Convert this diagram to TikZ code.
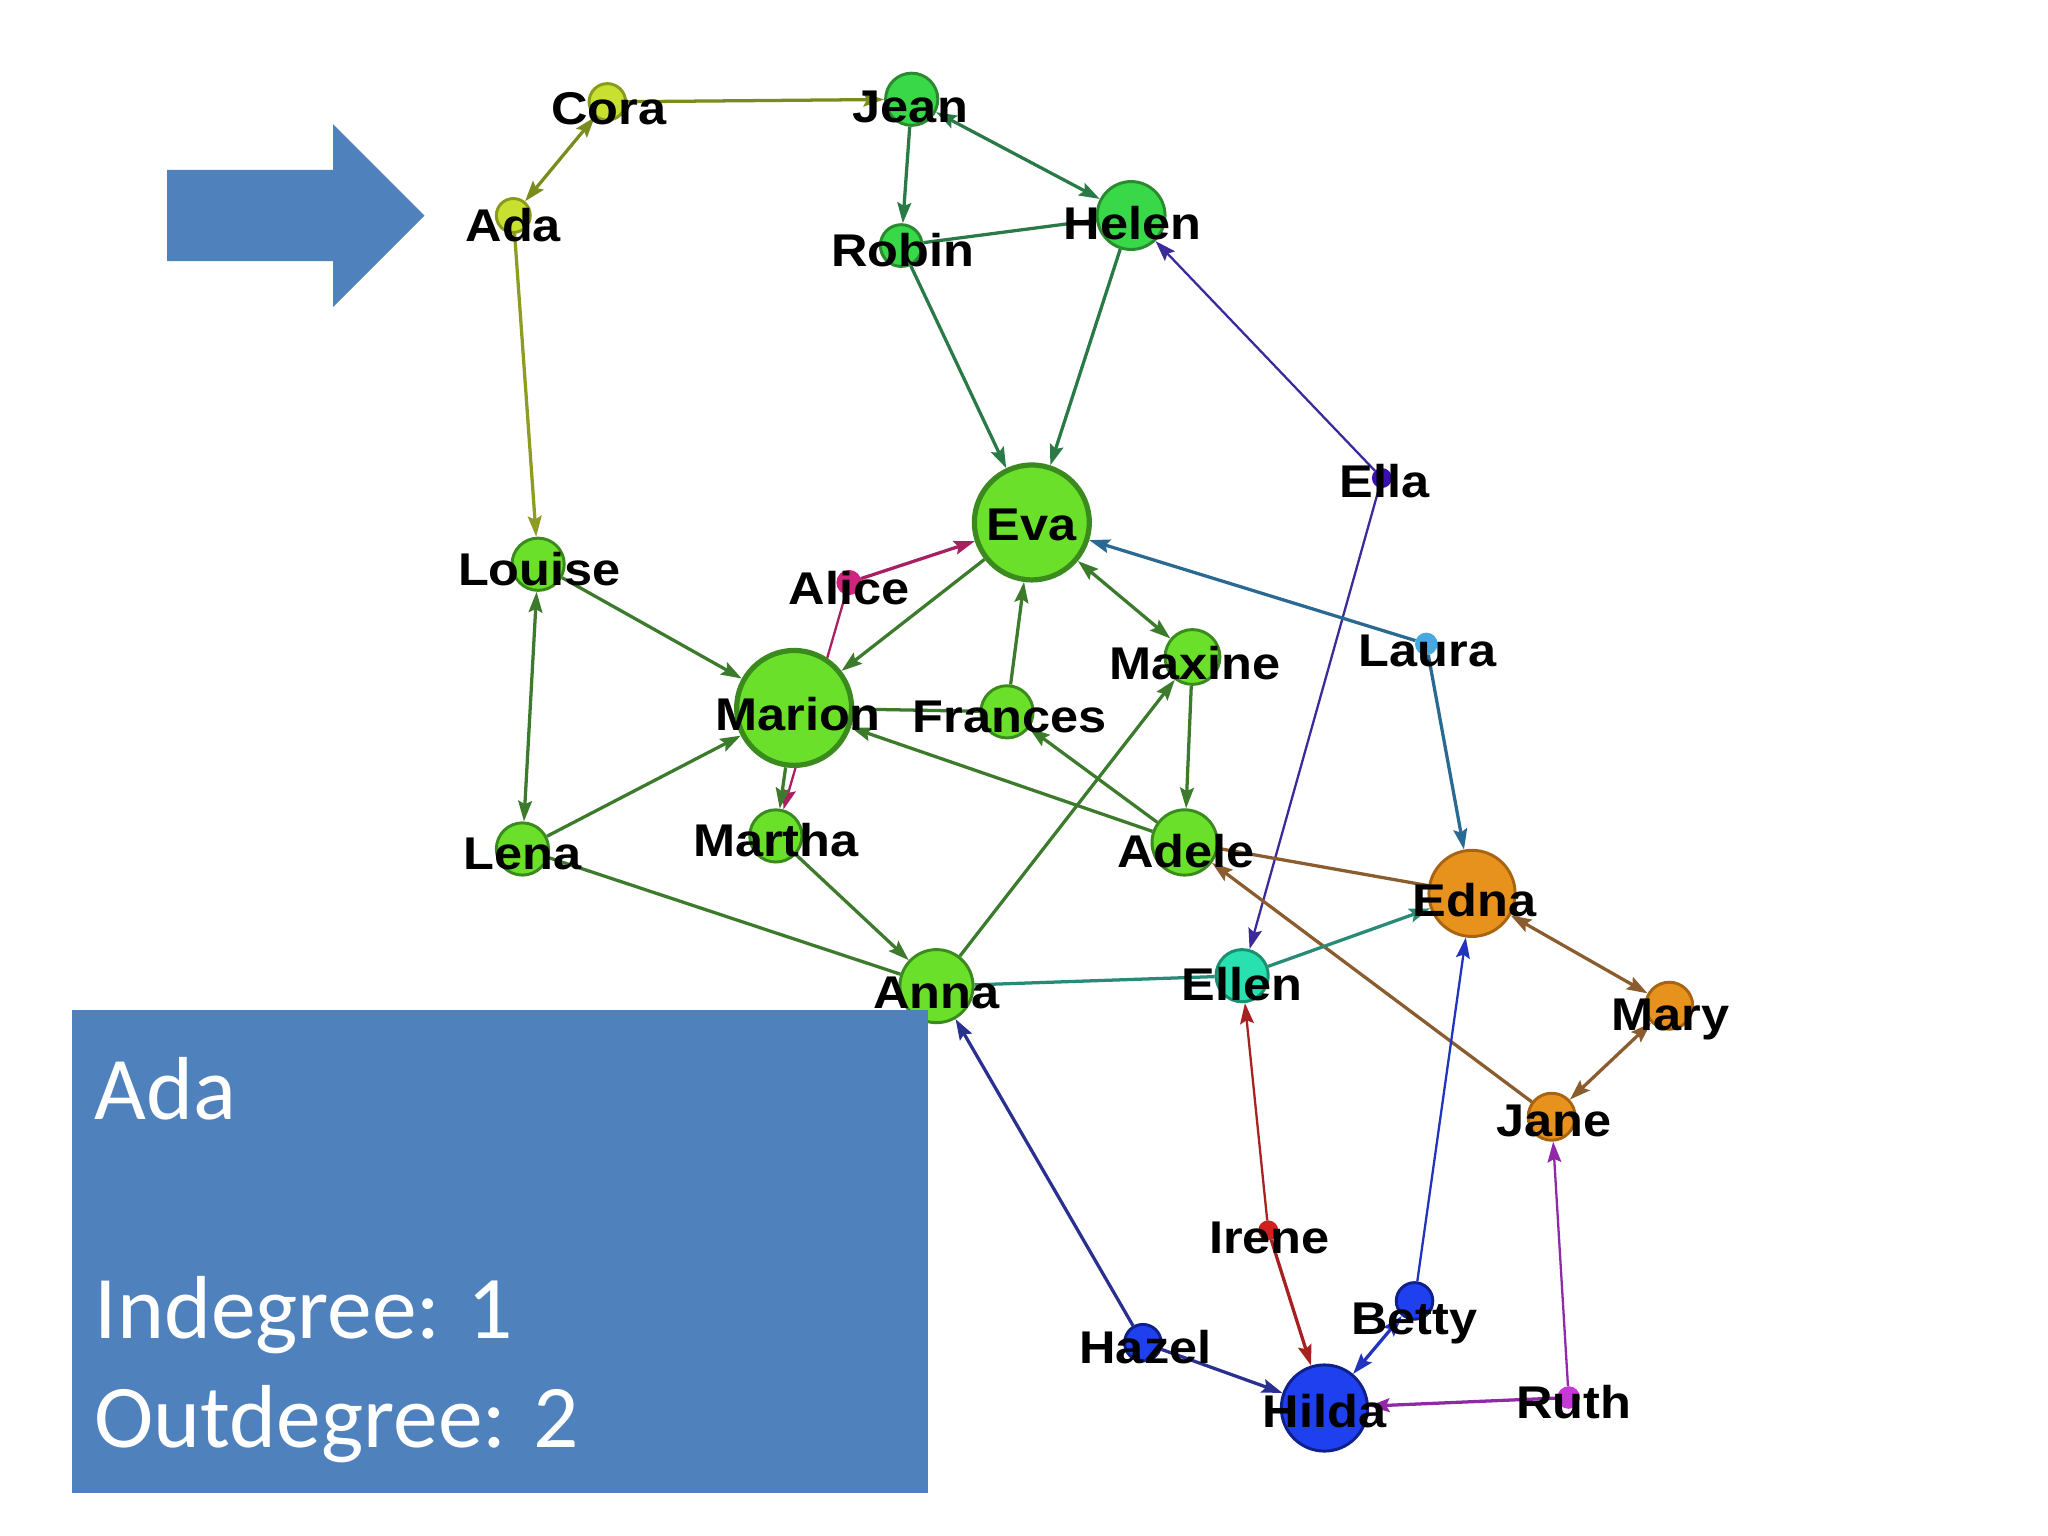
\documentclass[tikz,border=0pt]{standalone}
\usepackage{fontspec}
\setmainfont{Liberation Sans}
\newfontfamily\boxfont{Carlito}
\usetikzlibrary{arrows.meta,backgrounds}
\definecolor{limeF}{HTML}{6BE02A}\definecolor{limeB}{HTML}{3A8A1E}
\definecolor{jgF}{HTML}{38D848}\definecolor{jgB}{HTML}{2A8A30}
\definecolor{yelF}{HTML}{C8E030}\definecolor{yelB}{HTML}{8A9A1A}
\definecolor{orgF}{HTML}{E8921E}\definecolor{orgB}{HTML}{A86410}
\definecolor{tealF}{HTML}{28E0B0}\definecolor{tealB}{HTML}{1A9070}
\definecolor{bluF}{HTML}{1E40EE}\definecolor{bluB}{HTML}{10208A}
\definecolor{ellaF}{HTML}{3A10B0}\definecolor{lauraF}{HTML}{48A8E0}
\definecolor{aliceF}{HTML}{D02480}\definecolor{ireneF}{HTML}{D02020}
\definecolor{ruthF}{HTML}{C838D8}
\definecolor{eOl}{HTML}{7A8C1E}\definecolor{eAd}{HTML}{8E9C22}
\definecolor{eJg}{HTML}{2A7A48}\definecolor{eGr}{HTML}{3C7A2C}
\definecolor{eEl}{HTML}{3A2A9A}\definecolor{eLa}{HTML}{2A6A92}
\definecolor{eAl}{HTML}{A82060}\definecolor{eBr}{HTML}{8A5C2E}
\definecolor{eTe}{HTML}{2A8A78}\definecolor{eHz}{HTML}{2A3090}
\definecolor{eIr}{HTML}{A82020}\definecolor{eBe}{HTML}{2034C0}
\definecolor{eRu}{HTML}{9028A8}
\definecolor{slide}{HTML}{4F81BD}
\newcommand\lbl[1]{\scalebox{1.1}[1]{#1}}
\begin{document}
\begin{tikzpicture}[x=0.02cm,y=-0.02cm,
  >={Stealth[length=9pt,width=6pt,inset=1.5pt]},
  nd/.style={circle,inner sep=0pt,line width=0.045cm},
  big/.style={nd,line width=0.08cm},
  lime/.style={fill=limeF,draw=limeB},
  jg/.style={fill=jgF,draw=jgB},
  yel/.style={fill=yelF,draw=yelB},
  org/.style={fill=orgF,draw=orgB},
  teal/.style={fill=tealF,draw=tealB},
  blu/.style={fill=bluF,draw=bluB},
  lab/.style={anchor=base,inner sep=0pt,font=\bfseries\fontsize{20}{24}\selectfont},
  ed/.style={line width=0.05cm},
  thin/.style={line width=0.035cm},
  bt/.style={anchor=base west,inner sep=0pt,text=white,font=\boxfont\fontsize{39}{47}\selectfont}]
\useasboundingbox (0,0) rectangle (1568,1176);
% nodes (circles)
\node[nd,yel,minimum size=0.56cm] (Cora) at (465,78) {};
\node[nd,jg,minimum size=0.8cm] (Jean) at (698,76) {};
\node[nd,yel,minimum size=0.52cm] (Ada) at (393,165) {};
\node[nd,jg,minimum size=0.64cm] (Robin) at (690,188) {};
\node[nd,jg,minimum size=1.04cm] (Helen) at (866,165) {};
\node[big,lime,minimum size=1.76cm] (Eva) at (790,400) {};
\node[nd,draw=ellaF,fill=ellaF,minimum size=0.26cm] (Ella) at (1058,366) {};
\node[nd,lime,minimum size=0.8cm] (Louise) at (412,432) {};
\node[nd,draw=aliceF,fill=aliceF,minimum size=0.34cm] (Alice) at (650,446) {};
\node[nd,lime,minimum size=0.84cm] (Maxine) at (913,503) {};
\node[nd,draw=lauraF,fill=lauraF,minimum size=0.3cm] (Laura) at (1092,493) {};
\node[big,lime,minimum size=1.76cm] (Marion) at (608,542) {};
\node[nd,lime,minimum size=0.8cm] (Frances) at (771,545) {};
\node[nd,lime,minimum size=0.8cm] (Lena) at (400,650) {};
\node[nd,lime,minimum size=0.8cm] (Martha) at (594,640) {};
\node[nd,lime,minimum size=1.0cm] (Adele) at (907,645) {};
\node[nd,org,minimum size=1.32cm] (Edna) at (1127,684) {};
\node[nd,lime,minimum size=1.12cm] (Anna) at (717,755) {};
\node[nd,teal,minimum size=0.8cm] (Ellen) at (951,747) {};
\node[nd,org,minimum size=0.72cm] (Mary) at (1278,770) {};
\node[nd,org,minimum size=0.72cm] (Jane) at (1188,855) {};
\node[nd,draw=ireneF,fill=ireneF,minimum size=0.26cm] (Irene) at (971,942) {};
\node[nd,blu,minimum size=0.56cm] (Betty) at (1083,996) {};
\node[nd,blu,minimum size=0.56cm] (Hazel) at (875,1028) {};
\node[nd,blu,minimum size=1.32cm] (Hilda) at (1014,1078) {};
\node[nd,draw=ruthF,fill=ruthF,minimum size=0.3cm] (Ruth) at (1201,1070) {};
% edges
\begin{scope}[on background layer]
\fill[white] (0,0) rectangle (1568,1176);
\draw[ed,eOl,<->] (Cora) -- (Ada);
\draw[ed,eOl,->] (Cora) -- (Jean);
\draw[ed,eAd,->] (Ada) -- (Louise);
\draw[ed,eJg,->] (Jean) -- (Robin);
\draw[ed,eJg,<->] (Jean) -- (Helen);
\draw[ed,eJg] (Robin) -- (Helen);
\draw[ed,eJg,->] (Robin) -- (Eva);
\draw[ed,eJg,->] (Helen) -- (Eva);
\draw[thin,eEl,->] (Ella) -- (Helen);
\draw[thin,eEl,->] (Ella) -- (Ellen);
\draw[ed,eGr,->] (Louise) -- (Marion);
\draw[ed,eGr,<->] (Lena) -- (Louise);
\draw[ed,eGr,->] (Lena) -- (Marion);
\draw[ed,eGr] (Lena) -- (Anna);
\draw[ed,eAl,->] (Alice) -- (Eva);
\draw[thin,eAl,->] (Alice) -- (Martha);
\draw[ed,eGr,->] (Eva) -- (Marion);
\draw[ed,eGr,->] (Frances) -- (Eva);
\draw[ed,eGr] (Marion) -- (Frances);
\draw[ed,eGr,<->] (Eva) -- (Maxine);
\draw[ed,eLa,->] (Laura) -- (Eva);
\draw[ed,eLa,->] (Laura) -- (Edna);
\draw[ed,eGr,->] (Maxine) -- (Adele);
\draw[ed,eGr,->] (Anna) -- (Maxine);
\draw[ed,eGr,->] (Adele) -- (Marion);
\draw[ed,eGr,->] (Adele) -- (Frances);
\draw[ed,eGr,->] (Marion) -- (Martha);
\draw[ed,eGr,->] (Martha) -- (Anna);
\draw[ed,eBr] (Edna) -- (Adele);
\draw[ed,eBr,->] (Jane) -- (Adele);
\draw[ed,eTe,->] (Ellen) -- (Edna);
\draw[ed,eTe] (Ellen) -- (Anna);
\draw[ed,eBr,<->] (Edna) -- (Mary);
\draw[ed,eBr,<->] (Mary) -- (Jane);
\draw[ed,eHz,->] (Hazel) -- (Anna);
\draw[thin,eIr,->] (Irene) -- (Ellen);
\draw[ed,eIr,->] (Irene) -- (Hilda);
\draw[thin,eBe,->] (Betty) -- (Edna);
\draw[ed,eBe,<->] (Betty) -- (Hilda);
\draw[ed,eHz,->] (Hazel) -- (Hilda);
\draw[ed,eRu,->] (Ruth) -- (Hilda);
\draw[thin,eRu,->] (Ruth) -- (Jane);
\end{scope}
% labels
\node[lab] (lCora) at (466,95) {\lbl{Cora}};
\node[lab] (lJean) at (697,94) {\lbl{Jean}};
\node[lab] (lAda) at (393,185) {\lbl{Ada}};
\node[lab] (lRobin) at (691,204) {\lbl{Robin}};
\node[lab] (lHelen) at (867,183) {\lbl{Helen}};
\node[lab] (lEva) at (790,414) {\lbl{Eva}};
\node[lab] (lElla) at (1060,381) {\lbl{Ella}};
\node[lab] (lLouise) at (413,448) {\lbl{Louise}};
\node[lab] (lAlice) at (650,463) {\lbl{Alice}};
\node[lab] (lMaxine) at (915,520) {\lbl{Maxine}};
\node[lab] (lLaura) at (1093,510) {\lbl{Laura}};
\node[lab] (lMarion) at (611,559) {\lbl{Marion}};
\node[lab] (lFrances) at (773,561) {\lbl{Frances}};
\node[lab] (lLena) at (400,666) {\lbl{Lena}};
\node[lab] (lMartha) at (594,656) {\lbl{Martha}};
\node[lab] (lAdele) at (908,664) {\lbl{Adele}};
\node[lab] (lEdna) at (1129,702) {\lbl{Edna}};
\node[lab] (lAnna) at (717,772) {\lbl{Anna}};
\node[lab] (lEllen) at (951,766) {\lbl{Ellen}};
\node[lab] (lMary) at (1279,789) {\lbl{Mary}};
\node[lab] (lJane) at (1190,870) {\lbl{Jane}};
\node[lab] (lIrene) at (972,960) {\lbl{Irene}};
\node[lab] (lBetty) at (1083,1022) {\lbl{Betty}};
\node[lab] (lHazel) at (877,1044) {\lbl{Hazel}};
\node[lab] (lHilda) at (1014,1093) {\lbl{Hilda}};
\node[lab] (lRuth) at (1205,1086) {\lbl{Ruth}};
% slide arrow
\fill[slide] (128,130) -- (255,130) -- (255,95) -- (325,165) -- (255,235) -- (255,200) -- (128,200) -- cycle;
% info box
\node[fill=slide,inner sep=0pt,minimum width=13.1cm,minimum height=7.4cm,anchor=north west] (box) at (55,773) {};
\node[bt] (tAda) at (72,857) {Ada};
\node[bt] (tIn) at (72,1025) {Indegree: 1};
\node[bt] (tOut) at (72,1108) {Outdegree: 2};
\end{tikzpicture}
\end{document}
